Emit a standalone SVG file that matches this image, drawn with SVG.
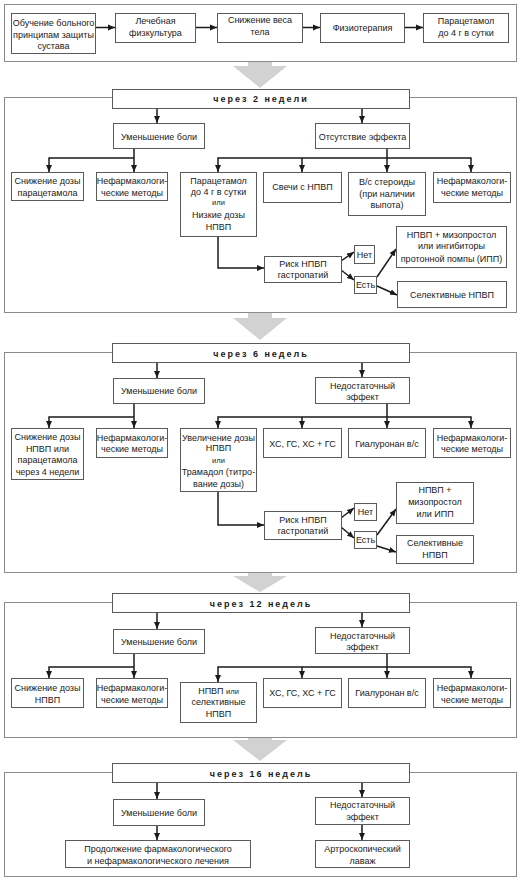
<svg xmlns="http://www.w3.org/2000/svg" width="522" height="881" viewBox="0 0 522 881">
<defs>
<marker id="ah" viewBox="0 0 8 8" refX="8" refY="4" markerWidth="7" markerHeight="7" orient="auto" markerUnits="userSpaceOnUse"><path d="M0,0.6 L8,4 L0,7.4 z" fill="#1a1a1a"/></marker>
<style>
.sec{fill:#fff;stroke:#8a8a8a;stroke-width:1}
.b rect{fill:#fff;stroke:#5a5a5a;stroke-width:1}
.t{font-family:"Liberation Sans",Arial,sans-serif;font-size:9px;fill:#1a1a1a;text-anchor:middle}
.h{font-weight:bold;letter-spacing:2px}
.s{font-size:7.5px}
.c path{fill:none;stroke:#1a1a1a;stroke-width:1.5;marker-end:url(#ah)}
.g{fill:#d2d2d2}
</style>
</defs>
<rect width="522" height="881" fill="#fff"/>

<!-- section frames -->
<rect class="sec" x="4.5" y="4.5" width="512" height="57"/>
<rect class="sec" x="4.5" y="97.5" width="512" height="215"/>
<rect class="sec" x="4.5" y="352.5" width="512" height="220"/>
<rect class="sec" x="4.5" y="602.5" width="512" height="135"/>
<rect class="sec" x="4.5" y="772.5" width="512" height="104"/>

<!-- gray transition arrows -->
<path class="g" d="M248 62 H272 V66 H287 L260 88 L233 66 H248 Z"/>
<path class="g" d="M248 313 H272 V318 H287 L260 340 L233 318 H248 Z"/>
<path class="g" d="M248 573 H272 V576 H287 L260 592 L233 576 H248 Z"/>
<path class="g" d="M248 738 H272 V740 H287 L260 761 L233 740 H248 Z"/>

<!-- connectors -->
<g id="connectors" class="c">
<path d="M96 27.5 H115"/>
<path d="M195 27.5 H217"/>
<path d="M302 27.5 H320"/>
<path d="M404 27.5 H423"/>
<!-- sec 2 -->
<path d="M157 108 V123"/>
<path d="M362 108 V123"/>
<path d="M134 148 V172"/>
<path d="M134 158 H49 V172"/>
<path d="M387 148 V172"/>
<path d="M387 158 H218 V172"/>
<path d="M387 158 H471 V172"/>
<path d="M302 158 V172"/>
<path d="M218 236 V268 H264"/>
<path d="M341 261 L354 252"/>
<path d="M341 270 L354 280"/>
<path d="M377 277 L396 249"/>
<path d="M377 286 L397 295"/>
<!-- sec 3 -->
<path d="M157 363 V378"/>
<path d="M362 363 V377"/>
<path d="M134 403 V428"/>
<path d="M134 417 H49 V428"/>
<path d="M387 403 V428"/>
<path d="M387 417 H218 V428"/>
<path d="M387 417 H471 V428"/>
<path d="M302 417 V428"/>
<path d="M218 492 V525 H264"/>
<path d="M341 518 L354 508"/>
<path d="M341 527 L354 538"/>
<path d="M377 535 L396 509"/>
<path d="M377 546 L396 552"/>
<!-- sec 4 -->
<path d="M157 613 V629"/>
<path d="M362 613 V627"/>
<path d="M134 653 V678"/>
<path d="M134 667 H49 V678"/>
<path d="M387 653 V678"/>
<path d="M387 667 H218 V682"/>
<path d="M387 667 H471 V678"/>
<path d="M302 667 V678"/>
<!-- sec 5 -->
<path d="M157 783 V799"/>
<path d="M362 783 V797"/>
<path d="M157 825 V840"/>
<path d="M362 824 V840"/>
</g>

<!-- section 1 -->
<g id="n1" class="b"><rect x="11.5" y="13.5" width="84" height="40"/><text class="t" x="53.5" y="26">Обучение больного</text><text class="t" x="53.5" y="37.5">принципам защиты</text><text class="t" x="53.5" y="49">сустава</text></g>
<g id="n2" class="b"><rect x="115.5" y="13.5" width="80" height="29"/><text class="t" x="155.5" y="24">Лечебная</text><text class="t" x="155.5" y="36">физкультура</text></g>
<g id="n3" class="b"><rect x="217.5" y="13.5" width="85" height="29"/><text class="t" x="260" y="22.5">Снижение веса</text><text class="t" x="260" y="34.5">тела</text></g>
<g id="n4" class="b"><rect x="320.5" y="13.5" width="84" height="29"/><text class="t" x="362.5" y="30.5">Физиотерапия</text></g>
<g id="n5" class="b"><rect x="423.5" y="13.5" width="85" height="29"/><text class="t" x="466" y="24">Парацетамол</text><text class="t" x="466" y="36">до 4 г в сутки</text></g>

<!-- section 2 -->
<g id="s2h" class="b"><rect x="112.5" y="89.5" width="297" height="19"/><text class="t h" x="261" y="102">через 2 недели</text></g>
<g id="s2a" class="b"><rect x="113.5" y="123.5" width="91" height="25"/><text class="t" x="159" y="139.5">Уменьшение боли</text></g>
<g id="s2b" class="b"><rect x="315.5" y="123.5" width="94" height="25"/><text class="t" x="362.5" y="139.5">Отсутствие эффекта</text></g>
<g id="s2c" class="b"><rect x="11.5" y="172.5" width="72" height="28"/><text class="t" x="47.5" y="184">Снижение дозы</text><text class="t" x="47.5" y="196">парацетамола</text></g>
<g id="s2d" class="b"><rect x="96.5" y="172.5" width="71" height="28"/><text class="t" x="132" y="184">Нефармакологи-</text><text class="t" x="132" y="196">ческие методы</text></g>
<g id="s2e" class="b"><rect x="180.5" y="172.5" width="76" height="64"/><text class="t" x="218.5" y="184">Парацетамол</text><text class="t" x="218.5" y="195">до 4 г в сутки</text><text class="t s" x="218.5" y="205">или</text><text class="t" x="218.5" y="218">Низкие дозы</text><text class="t" x="218.5" y="230">НПВП</text></g>
<g id="s2f" class="b"><rect x="263.5" y="172.5" width="78" height="30"/><text class="t" x="302.5" y="189.5">Свечи с НПВП</text></g>
<g id="s2g" class="b"><rect x="348.5" y="172.5" width="77" height="43"/><text class="t" x="387" y="185">В/с стероиды</text><text class="t" x="387" y="196.5">(при наличии</text><text class="t" x="387" y="208">выпота)</text></g>
<g id="s2h2" class="b"><rect x="433.5" y="172.5" width="77" height="30"/><text class="t" x="472" y="184">Нефармакологи-</text><text class="t" x="472" y="196">ческие методы</text></g>
<g id="s2i" class="b"><rect x="264.5" y="256.5" width="77" height="26"/><text class="t" x="303" y="266.5">Риск НПВП</text><text class="t" x="303" y="278">гастропатий</text></g>
<g id="s2j" class="b"><rect x="354.5" y="245.5" width="20" height="18"/><text class="t" x="364.5" y="257.5">Нет</text></g>
<g id="s2k" class="b"><rect x="354.5" y="276.5" width="22" height="17"/><text class="t" x="365.5" y="288">Есть</text></g>
<g id="s2l" class="b"><rect x="396.5" y="226.5" width="110" height="41"/><text class="t" x="451.5" y="237.5">НПВП + мизопростол</text><text class="t" x="451.5" y="249">или ингибиторы</text><text class="t" x="451.5" y="262">протонной помпы (ИПП)</text></g>
<g id="s2m" class="b"><rect x="397.5" y="281.5" width="109" height="26"/><text class="t" x="452" y="297.5">Селективные НПВП</text></g>

<!-- section 3 -->
<g id="s3h" class="b"><rect x="112.5" y="343.5" width="297" height="19"/><text class="t h" x="261" y="356.5">через 6 недель</text></g>
<g id="s3a" class="b"><rect x="113.5" y="378.5" width="91" height="25"/><text class="t" x="159" y="394">Уменьшение боли</text></g>
<g id="s3b" class="b"><rect x="315.5" y="377.5" width="94" height="26"/><text class="t" x="362.5" y="388.5">Недостаточный</text><text class="t" x="362.5" y="400">эффект</text></g>
<g id="s3c" class="b"><rect x="11.5" y="428.5" width="72" height="51"/><text class="t" x="47.5" y="440">Снижение дозы</text><text class="t" x="47.5" y="451.5">НПВП или</text><text class="t" x="47.5" y="463">парацетамола</text><text class="t" x="47.5" y="474.5">через 4 недели</text></g>
<g id="s3d" class="b"><rect x="96.5" y="428.5" width="71" height="29"/><text class="t" x="132" y="440.5">Нефармакологи-</text><text class="t" x="132" y="452">ческие методы</text></g>
<g id="s3e" class="b"><rect x="180.5" y="428.5" width="76" height="63"/><text class="t" x="218.5" y="440.5">Увеличение дозы</text><text class="t" x="218.5" y="450.5">НПВП</text><text class="t s" x="218.5" y="462.5">или</text><text class="t" x="218.5" y="475">Трамадол (титро-</text><text class="t" x="218.5" y="486.5">вание дозы)</text></g>
<g id="s3f" class="b"><rect x="263.5" y="428.5" width="78" height="29"/><text class="t" x="302.5" y="446.5">ХС, ГС, ХС + ГС</text></g>
<g id="s3g" class="b"><rect x="348.5" y="428.5" width="77" height="29"/><text class="t" x="387" y="446.5">Гиалуронан в/с</text></g>
<g id="s3h2" class="b"><rect x="433.5" y="428.5" width="77" height="29"/><text class="t" x="472" y="440.5">Нефармакологи-</text><text class="t" x="472" y="452">ческие методы</text></g>
<g id="s3i" class="b"><rect x="264.5" y="511.5" width="77" height="28"/><text class="t" x="303" y="522.5">Риск НПВП</text><text class="t" x="303" y="534">гастропатий</text></g>
<g id="s3j" class="b"><rect x="354.5" y="503.5" width="22" height="17"/><text class="t" x="365.5" y="515">Нет</text></g>
<g id="s3k" class="b"><rect x="354.5" y="531.5" width="22" height="17"/><text class="t" x="365.5" y="543">Есть</text></g>
<g id="s3l" class="b"><rect x="396.5" y="482.5" width="77" height="41"/><text class="t" x="435" y="493">НПВП +</text><text class="t" x="435" y="504.5">мизопростол</text><text class="t" x="435" y="516.5">или  ИПП</text></g>
<g id="s3m" class="b"><rect x="396.5" y="535.5" width="77" height="28"/><text class="t" x="435" y="546">Селективные</text><text class="t" x="435" y="558">НПВП</text></g>

<!-- section 4 -->
<g id="s4h" class="b"><rect x="112.5" y="593.5" width="297" height="19"/><text class="t h" x="261" y="606.5">через 12 недель</text></g>
<g id="s4a" class="b"><rect x="113.5" y="629.5" width="91" height="24"/><text class="t" x="159" y="644.5">Уменьшение боли</text></g>
<g id="s4b" class="b"><rect x="315.5" y="627.5" width="94" height="26"/><text class="t" x="362.5" y="638.5">Недостаточный</text><text class="t" x="362.5" y="650">эффект</text></g>
<g id="s4c" class="b"><rect x="11.5" y="678.5" width="72" height="29"/><text class="t" x="47.5" y="691">Снижение дозы</text><text class="t" x="47.5" y="703">НПВП</text></g>
<g id="s4d" class="b"><rect x="96.5" y="678.5" width="71" height="29"/><text class="t" x="132" y="691">Нефармакологи-</text><text class="t" x="132" y="703">ческие методы</text></g>
<g id="s4e" class="b"><rect x="180.5" y="682.5" width="76" height="40"/><text class="t" x="218.5" y="693.5">НПВП <tspan class="s">или</tspan></text><text class="t" x="218.5" y="705">селективные</text><text class="t" x="218.5" y="716.5">НПВП</text></g>
<g id="s4f" class="b"><rect x="263.5" y="678.5" width="78" height="29"/><text class="t" x="302.5" y="696">ХС, ГС, ХС + ГС</text></g>
<g id="s4g" class="b"><rect x="348.5" y="678.5" width="77" height="29"/><text class="t" x="387" y="696">Гиалуронан в/с</text></g>
<g id="s4h2" class="b"><rect x="433.5" y="678.5" width="77" height="29"/><text class="t" x="472" y="691">Нефармакологи-</text><text class="t" x="472" y="703">ческие методы</text></g>

<!-- section 5 -->
<g id="s5h" class="b"><rect x="112.5" y="763.5" width="297" height="19"/><text class="t h" x="261" y="776.5">через 16 недель</text></g>
<g id="s5a" class="b"><rect x="113.5" y="799.5" width="91" height="26"/><text class="t" x="159" y="815.5">Уменьшение боли</text></g>
<g id="s5b" class="b"><rect x="315.5" y="797.5" width="94" height="27"/><text class="t" x="362.5" y="808">Недостаточный</text><text class="t" x="362.5" y="820">эффект</text></g>
<g id="s5c" class="b"><rect x="65.5" y="840.5" width="185" height="27"/><text class="t" x="158" y="851.5">Продолжение фармакологического</text><text class="t" x="158" y="863.5">и нефармакологического  лечения</text></g>
<g id="s5d" class="b"><rect x="315.5" y="840.5" width="94" height="27"/><text class="t" x="362.5" y="851.5">Артроскопический</text><text class="t" x="362.5" y="863.5">лаваж</text></g>
</svg>
